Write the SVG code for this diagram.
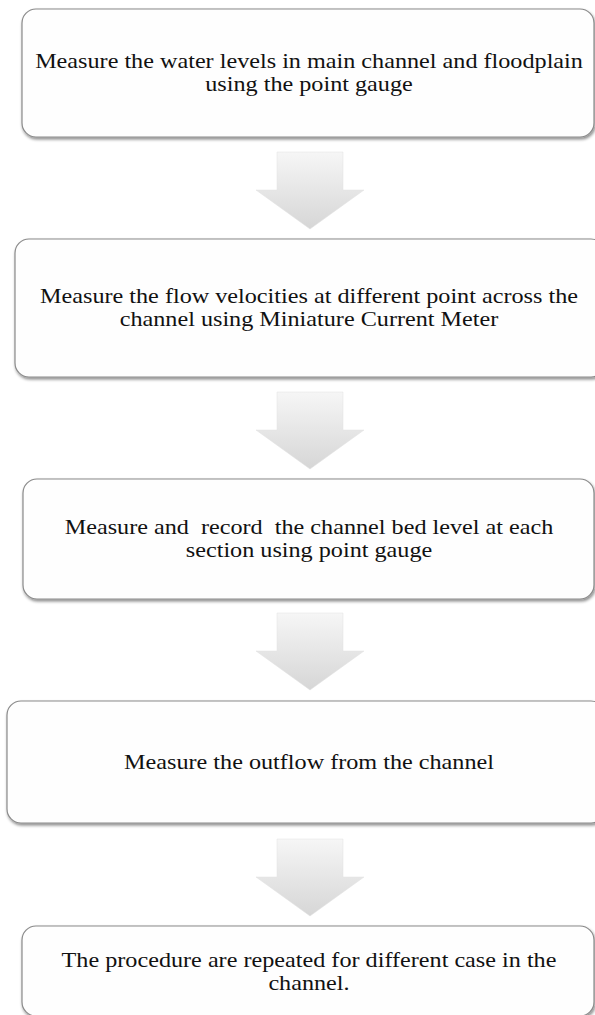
<svg xmlns="http://www.w3.org/2000/svg" width="595" height="1015" viewBox="0 0 595 1015">
<defs>
<filter id="sh" x="-5%" y="-10%" width="115%" height="130%">
<feDropShadow dx="1" dy="2" stdDeviation="1.5" flood-color="#000" flood-opacity="0.45"/>
</filter>
<linearGradient id="ag" x1="0" y1="0" x2="0" y2="1">
<stop offset="0" stop-color="#f6f6f6"/>
<stop offset="1" stop-color="#d6d6d6"/>
</linearGradient>
<path id="arrow" d="M-33,0 H33 V38 H54 L0,77 L-54,38 H-33 Z"/>
</defs>
<style>
.box{fill:#fefefe;stroke:#8a8a8a;stroke-width:1.2;filter:url(#sh)}
.t{font-family:"Liberation Serif","Times New Roman",serif;font-size:20.5px;fill:#111;text-anchor:middle}
.arr{fill:url(#ag);stroke:#e0e0e0;stroke-width:0.5}
</style>
<rect width="595" height="1015" fill="#fff"/>
<g id="connectors">
<use href="#arrow" class="arr" x="310" y="152"/>
<use href="#arrow" class="arr" x="310" y="392"/>
<use href="#arrow" class="arr" x="310" y="613"/>
<use href="#arrow" class="arr" x="310" y="839"/>
</g>
<g id="node1">
<rect class="box" x="22" y="9" width="572" height="128" rx="14"/>
<text class="t" transform="translate(309,0) scale(1.18,1)"><tspan x="0" y="68">Measure the water levels in main channel and floodplain</tspan><tspan x="0" y="91">using the point gauge</tspan></text>
</g>
<g id="node2">
<rect class="box" x="15" y="239" width="590" height="138" rx="14"/>
<text class="t" transform="translate(309,0) scale(1.18,1)"><tspan x="0" y="303">Measure the flow velocities at different point across the</tspan><tspan x="0" y="326">channel using Miniature Current Meter</tspan></text>
</g>
<g id="node3">
<rect class="box" x="23" y="479" width="571" height="120" rx="14"/>
<text class="t" transform="translate(309,0) scale(1.18,1)"><tspan x="0" y="534" xml:space="preserve">Measure and  record  the channel bed level at each</tspan><tspan x="0" y="557">section using point gauge</tspan></text>
</g>
<g id="node4">
<rect class="box" x="7" y="701" width="598" height="122" rx="14"/>
<text class="t" transform="translate(309,0) scale(1.18,1)"><tspan x="0" y="769">Measure the outflow from the channel</tspan></text>
</g>
<g id="node5">
<rect class="box" x="22" y="926" width="572" height="90" rx="14"/>
<text class="t" transform="translate(309,0) scale(1.18,1)"><tspan x="0" y="967">The procedure are repeated for different case in the</tspan><tspan x="0" y="990">channel.</tspan></text>
</g>
</svg>
